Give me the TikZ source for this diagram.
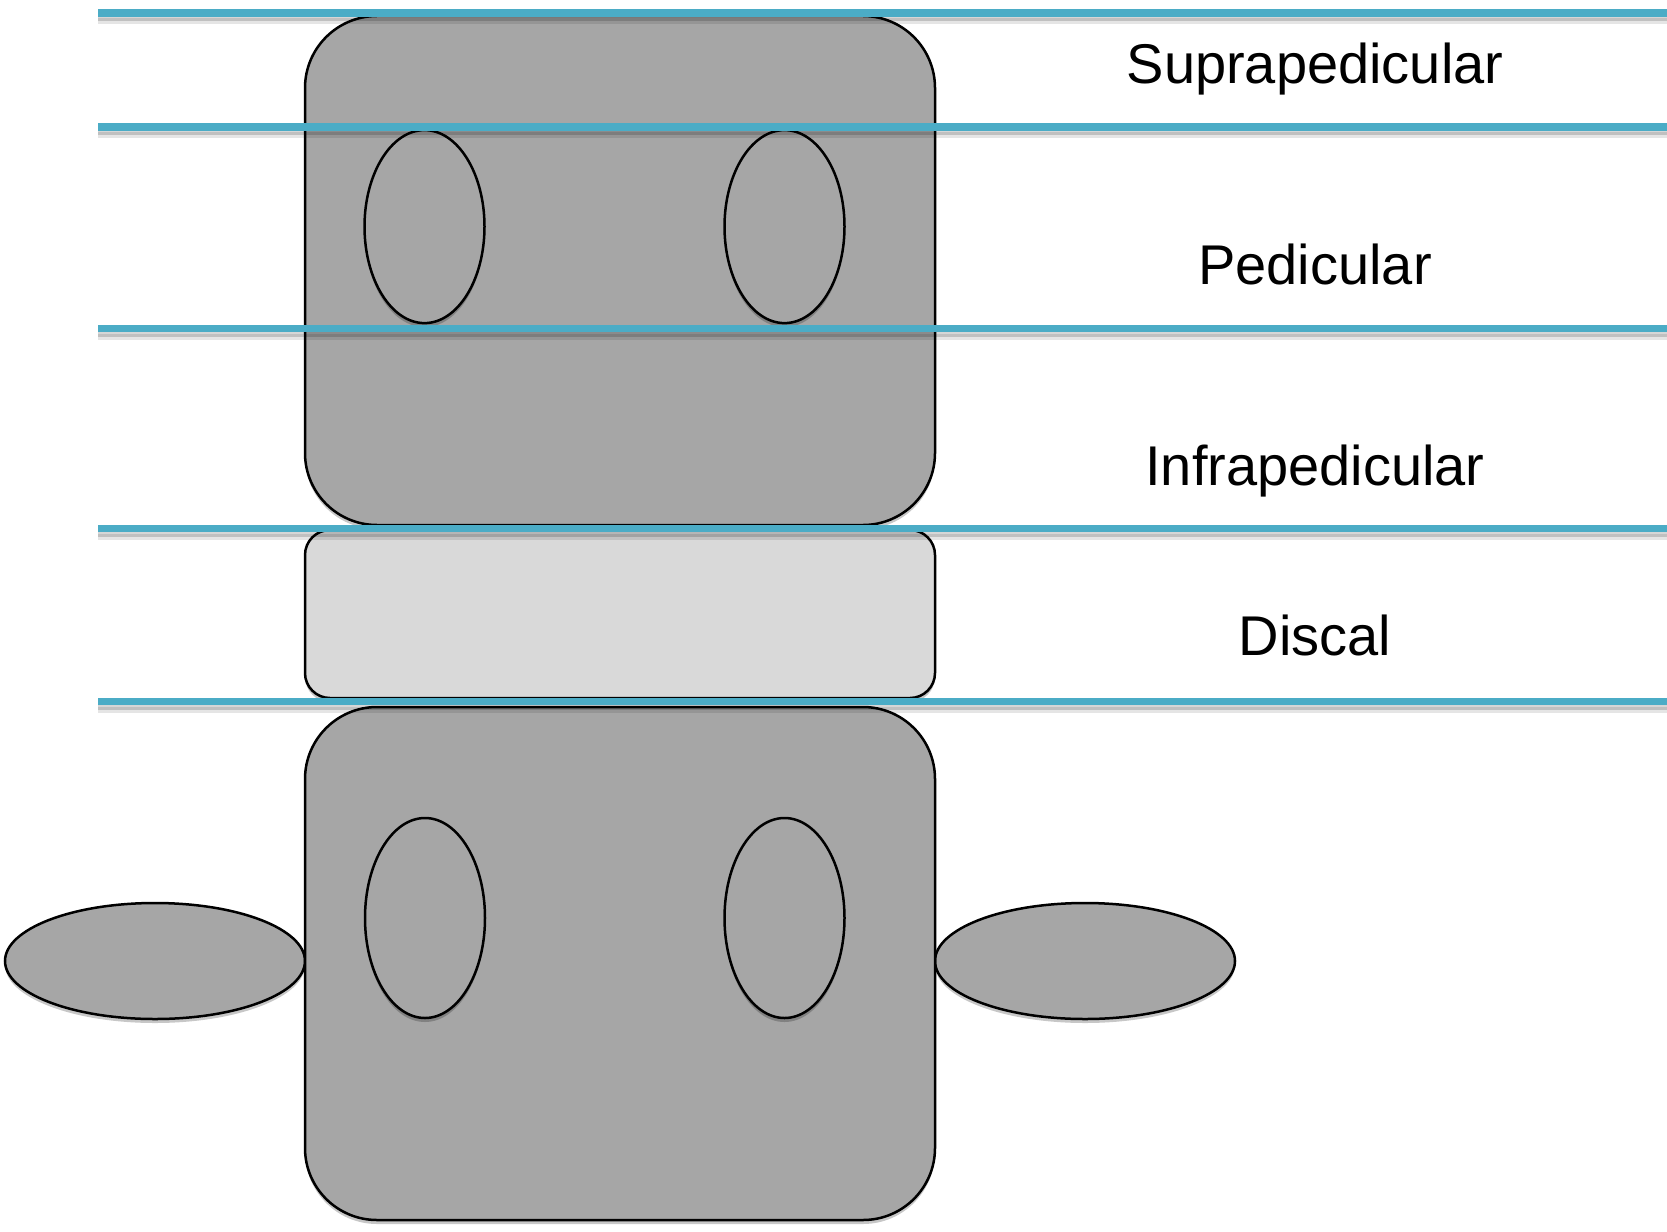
\documentclass[tikz,border=0pt]{standalone}
\usepackage{fontspec}
\setmainfont{Liberation Sans}
\usetikzlibrary{shapes.geometric,shadows}
\definecolor{bone}{HTML}{A6A6A6}
\definecolor{discgray}{HTML}{D9D9D9}
\definecolor{levelblue}{HTML}{4BACC6}
\begin{document}
\begin{tikzpicture}[x=1pt,y=-1pt,
  softshadow/.style={drop shadow={shadow xshift=0pt,shadow yshift=-4pt,opacity=0.22,fill=black}},
  bodybox/.style={draw=black,line width=2.5pt,fill=bone,rounded corners=72pt,
    minimum width=630pt,inner sep=0pt,outer sep=0pt,softshadow},
  discbox/.style={draw=black,line width=2.5pt,fill=discgray,rounded corners=25pt,
    minimum width=630pt,minimum height=168pt,inner sep=0pt,outer sep=0pt,softshadow},
  pedicle/.style={ellipse,draw=black,line width=2.5pt,fill=bone,inner sep=0pt,
    minimum width=120pt,softshadow},
  process/.style={ellipse,draw=black,line width=2.5pt,fill=bone,inner sep=0pt,
    minimum width=300pt,minimum height=116pt,softshadow},
  levelline/.style={draw=levelblue,line width=7.5pt},
  levelshadow/.style={draw=black,line width=6pt},
  levellabel/.style={anchor=base,inner sep=0pt,font=\fontsize{56}{60}\selectfont}]
\useasboundingbox (0,0) rectangle (1667,1231);

% transverse processes
\node[process] (tpl) at (155,961) {};
\node[process] (tpr) at (1085,961) {};

% vertebral bodies and disc
\node[bodybox,minimum height=509pt] (upper) at (620,270.5) {};
\node[discbox] (disc) at (620,614) {};
\node[bodybox,minimum height=513pt] (lower) at (620,963.5) {};

% pedicles
\node[pedicle,minimum height=193pt] (pul) at (424.5,226.6) {};
\node[pedicle,minimum height=193pt] (pur) at (784.5,226.6) {};
\node[pedicle,minimum height=200pt] (pll) at (425,918) {};
\node[pedicle,minimum height=200pt] (plr) at (784.5,918) {};

% level lines
\foreach \i/\y in {1/12.8,2/127,3/328.5,4/528.5,5/701.5}{
  \coordinate (L\i) at (98,\y);
  \coordinate (R\i) at (1667,\y);
  \draw[levelshadow,opacity=0.10] ([yshift=-8pt]L\i) -- ([yshift=-8pt]R\i);
  \draw[levelshadow,opacity=0.16] ([yshift=-5pt]L\i) -- ([yshift=-5pt]R\i);
  \draw[levelline] (L\i) -- (R\i);
}

% labels
\node[levellabel] (supra) at (1315,84) {Suprapedicular};
\node[levellabel] (ped) at (1315,284) {Pedicular};
\node[levellabel] (infra) at (1315,485) {Infrapedicular};
\node[levellabel] (discal) at (1315,655) {Discal};
\end{tikzpicture}
\end{document}
